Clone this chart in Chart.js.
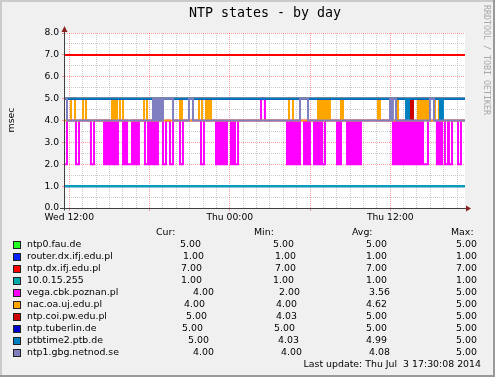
<!DOCTYPE html>
<html>
<head>
<meta charset="utf-8">
<script src="https://cdn.jsdelivr.net/npm/chart.js@4.4.1/dist/chart.umd.min.js"></script>
<style>
  html, body { margin: 0; padding: 0; background: #f0f0f0; }
  #ntp { display: block; }
</style>
</head>
<body>
<canvas id="ntp" width="495" height="377"></canvas>
<script>
// hours counted from Wed 00:00, values in msec
var seriesNames = ['ntp0.fau.de', 'router.dx.ifj.edu.pl', 'ntp.dx.ifj.edu.pl', '10.0.15.255',
  'vega.cbk.poznan.pl', 'nac.oa.uj.edu.pl', 'ntp.coi.pw.edu.pl', 'ntp.tuberlin.de',
  'ptbtime2.ptb.de', 'ntp1.gbg.netnod.se'];
var seriesColors = ['#22ff22', '#0022ff', '#ff0000', '#00aaaa', '#ff00ff',
  '#ffa500', '#cc0000', '#0000cc', '#0080c0', '#8080c0'];

var ntp0Fau = [[11.68, 5], [41.59, 5]];
var routerDx = [[11.68, 1], [41.59, 1]];
var ntpDx = [[11.68, 7], [41.59, 7]];
var local255 = [[11.68, 1], [41.59, 1]];
var vegaCbk = [
  [11.68, 2], [11.83, 4],
  [12.50, 2], [12.73, 4],
  [13.62, 2], [13.85, 4],
  [14.60, 2], [14.75, 4], [14.89, 2], [15.04, 4],
  [15.19, 2], [15.34, 4], [15.49, 2], [15.64, 4],
  [16.02, 2], [16.17, 4], [16.32, 2], [16.69, 4], [16.84, 2], [16.99, 4], [17.06, 2], [17.21, 4],
  [17.66, 2], [17.89, 4],
  [17.96, 2], [18.11, 4], [18.26, 2], [18.41, 4], [18.56, 2], [18.63, 4],
  [19.01, 2], [19.23, 4],
  [19.53, 2], [19.76, 4],
  [20.28, 2], [20.50, 4],
  [21.85, 2], [22.07, 4],
  [22.97, 2], [23.12, 4], [23.19, 2], [23.27, 4],
  [23.34, 2], [23.49, 4], [23.64, 2], [23.79, 4],
  [24.09, 2], [24.24, 4], [24.39, 2], [24.62, 4],
  [26.34, 5], [26.63, 4],
  [28.28, 2], [28.43, 4], [28.58, 2], [28.73, 4], [28.88, 2], [29.03, 4],
  [29.18, 2], [29.25, 4],
  [29.55, 2], [29.70, 4], [29.85, 2], [30.00, 4],
  [30.30, 2], [30.45, 4], [30.60, 2], [30.75, 4], [30.90, 2], [31.12, 4],
  [32.02, 2], [32.17, 4], [32.24, 2], [32.32, 4],
  [32.77, 2], [32.92, 4], [33.06, 2], [33.21, 4], [33.36, 2], [33.51, 4], [33.66, 2], [33.81, 4],
  [36.20, 2], [36.35, 4], [36.43, 2], [36.50, 4],
  [36.65, 2], [36.73, 4],
  [36.88, 2], [37.03, 4], [37.10, 2], [37.25, 4], [37.40, 2], [37.55, 4], [37.70, 2], [37.85, 4], [38.00, 2], [38.15, 4],
  [38.29, 2], [38.37, 4], [38.45, 2], [38.82, 4],
  [39.49, 2], [39.64, 4], [39.72, 2], [39.87, 4],
  [40.09, 2], [40.32, 4], [40.39, 2], [40.62, 4],
  [41.07, 2], [41.29, 4],
  [41.59, 4]
];
var nacOa = [
  [11.68, 4],
  [12.13, 5], [12.43, 4],
  [13.03, 5], [13.25, 4],
  [15.19, 5], [15.34, 4], [15.42, 5], [15.57, 4],
  [15.79, 5], [16.02, 4],
  [17.59, 5], [17.81, 4],
  [20.28, 5], [20.43, 4],
  [21.70, 5], [21.92, 4],
  [22.22, 5], [22.37, 4],
  [22.45, 5], [22.60, 4],
  [28.43, 5], [28.73, 4],
  [30.60, 5], [30.75, 4], [30.90, 5], [31.05, 4],
  [31.12, 5], [31.27, 4], [31.34, 5], [31.49, 4],
  [32.32, 5], [32.47, 4],
  [35.08, 5], [35.23, 4],
  [36.43, 5], [36.58, 4],
  [38.07, 5], [38.22, 4], [38.37, 5], [38.52, 4], [38.67, 5], [38.75, 4], [38.82, 5], [38.90, 4],
  [39.35, 5], [39.64, 4],
  [41.59, 4]
];
var ntpCoi = [[11.68, 5], [37.48, 4.03], [37.55, 5], [37.63, 4.03], [37.70, 5], [41.59, 5]];
var ntpTuberlin = [[11.68, 5], [41.59, 5]];
var ptbtime2 = [[11.68, 5], [37.18, 4.03], [37.25, 5], [37.33, 4.03], [37.40, 5],
  [39.72, 4.03], [39.79, 5], [39.87, 4.03], [39.94, 5], [41.59, 5]];
var ntp1Gbg = [
  [11.68, 5], [11.83, 4],
  [18.26, 5], [18.33, 4], [18.41, 5], [18.48, 4], [18.56, 5], [18.63, 4], [18.71, 5], [18.78, 4],
  [18.86, 5], [18.93, 4], [19.01, 5], [19.76, 4],
  [20.95, 5], [21.25, 4],
  [29.25, 5], [29.85, 4],
  [35.98, 5], [36.13, 4], [36.20, 5], [36.43, 4],
  [38.97, 5], [39.27, 4],
  [41.59, 4]
];
var seriesPoints = [ntp0Fau, routerDx, ntpDx, local255, vegaCbk, nacOa, ntpCoi, ntpTuberlin, ptbtime2, ntp1Gbg];

// legend statistics as printed
var curValues = ['5.00', '1.00', '7.00', '1.00', '4.00', '4.00', '5.00', '5.00', '5.00', '4.00'];
var minValues = ['5.00', '1.00', '7.00', '1.00', '2.00', '4.00', '4.03', '5.00', '4.03', '4.00'];
var avgValues = ['5.00', '1.00', '7.00', '1.00', '3.56', '4.62', '5.00', '5.00', '4.99', '4.08'];
var maxValues = ['5.00', '1.00', '7.00', '1.00', '5.00', '5.00', '5.00', '5.00', '5.00', '5.00'];
var statHeaders = ['Cur:', 'Min:', 'Avg:', 'Max:'];
var lastUpdate = 'Last update: Thu Jul  3 17:30:08 2014';

// axes
var xGridHours = [12, 13, 14, 15, 16, 17, 18, 19, 20, 21, 22, 23, 24, 25, 26, 27, 28, 29, 30,
  31, 32, 33, 34, 35, 36, 37, 38, 39, 40, 41];
var xMajorHours = [12, 18, 24, 30, 36];
var xLabelHours = [12, 24, 36];
var xLabelText = ['Wed 12:00', 'Thu 00:00', 'Thu 12:00'];
var yGridValues = [0, 0.5, 1, 1.5, 2, 2.5, 3, 3.5, 4, 4.5, 5, 5.5, 6, 6.5, 7, 7.5, 8];

// layout of the text columns (rrdtool pads these unevenly)
var curX = [180, 183, 181, 181, 193, 184, 186, 182, 188, 193];
var minX = [273, 275, 275, 273, 279, 276, 276, 274, 278, 281];
var avgX = [366, 366, 366, 366, 369, 366, 366, 366, 366, 369];
var headerX = [156, 254, 352, 451];

var GRID = 'rgba(140,140,140,0.45)';
var MGRID = 'rgba(255,0,0,0.38)';
var FONT = 'DejaVu Sans';

var rrdFrame = {
  id: 'rrdFrame',
  beforeDraw: function(chart) {
    var ctx = chart.ctx, a = chart.chartArea, w = chart.width, h = chart.height;
    ctx.save();
    ctx.fillStyle = '#f0f0f0';
    ctx.fillRect(0, 0, w, h);
    ctx.fillStyle = '#cbcbcb';
    ctx.fillRect(0, 0, w, 2);
    ctx.fillRect(0, 0, 2, h);
    ctx.fillStyle = '#999999';
    ctx.fillRect(w - 2, 0, 2, h);
    ctx.fillRect(0, h - 2, w, 2);
    ctx.fillStyle = '#ffffff';
    ctx.fillRect(a.left, a.top, a.right - a.left, a.bottom - a.top);
    ctx.restore();
  },
  afterDraw: function(chart) {
    var ctx = chart.ctx, a = chart.chartArea;
    var ax = Math.round(a.left) - 0.5, ay = Math.round(a.bottom) + 0.5;
    ctx.save();
    // axes with arrows
    ctx.strokeStyle = '#404040';
    ctx.lineWidth = 1;
    ctx.beginPath();
    ctx.moveTo(60, ay); ctx.lineTo(a.right + 3, ay);
    ctx.moveTo(ax, ay + 2); ctx.lineTo(ax, a.top - 3);
    ctx.stroke();
    ctx.fillStyle = '#8b2020';
    ctx.beginPath();
    ctx.moveTo(ax, a.top - 7); ctx.lineTo(ax - 3, a.top - 1); ctx.lineTo(ax + 3, a.top - 1);
    ctx.closePath(); ctx.fill();
    ctx.beginPath();
    ctx.moveTo(a.right + 6, ay); ctx.lineTo(a.right + 1, ay - 3); ctx.lineTo(a.right + 1, ay + 3);
    ctx.closePath(); ctx.fill();

    // title
    ctx.fillStyle = '#000';
    ctx.textBaseline = 'middle';
    ctx.textAlign = 'center';
    ctx.font = '13.3px "DejaVu Sans Mono"';
    ctx.fillText('NTP states - by day', 265, 13.5);

    // vertical label
    ctx.save();
    ctx.translate(12, 120);
    ctx.rotate(-Math.PI / 2);
    ctx.font = '9.4px "' + FONT + '"';
    ctx.fillText('msec', 0, 0);
    ctx.restore();

    // watermark
    ctx.save();
    ctx.translate(486, 5);
    ctx.rotate(Math.PI / 2);
    ctx.textAlign = 'left';
    ctx.fillStyle = '#a8a8a8';
    ctx.font = '8.3px "DejaVu Sans Mono"';
    ctx.fillText('RRDTOOL / TOBI OETIKER', 0, 0);
    ctx.restore();

    // legend table
    ctx.textAlign = 'left';
    ctx.font = '9.4px "' + FONT + '"';
    ctx.fillStyle = '#000';
    statHeaders.forEach(function(t, k) { ctx.fillText(t, headerX[k], 232.5); });
    seriesNames.forEach(function(name, i) {
      var y = 245 + i * 11.95;
      ctx.fillStyle = seriesColors[i];
      ctx.fillRect(13, Math.round(y) - 4, 8, 8);
      ctx.strokeStyle = '#202020';
      ctx.strokeRect(13.5, Math.round(y) - 3.5, 7, 7);
      ctx.fillStyle = '#000';
      ctx.fillText(name, 27, y);
      ctx.fillText(curValues[i], curX[i], y);
      ctx.fillText(minValues[i], minX[i], y);
      ctx.fillText(avgValues[i], avgX[i], y);
      ctx.fillText(maxValues[i], 456, y);
    });
    ctx.textAlign = 'right';
    ctx.fillText(lastUpdate, 481, 364.5);
    ctx.restore();
  }
};

var datasets = seriesNames.map(function(name, i) {
  return {
    label: name,
    data: seriesPoints[i].map(function(p) { return {x: p[0], y: p[1]}; }),
    borderColor: seriesColors[i],
    backgroundColor: seriesColors[i],
    borderWidth: 2,
    pointRadius: 0,
    stepped: 'before',   // value holds until the next change point
    fill: false,
    tension: 0,
    order: seriesNames.length - i   // later entries drawn on top, like rrdtool
  };
});

new Chart(document.getElementById('ntp'), {
  type: 'line',
  data: {datasets: datasets},
  options: {
    responsive: false,
    animation: false,
    devicePixelRatio: 1,
    layout: {padding: {top: 33, left: 0, right: 30, bottom: 149}},
    plugins: {legend: {display: false}, tooltip: {enabled: false}, title: {display: false}},
    scales: {
      x: {
        type: 'linear',
        min: 11.68,
        max: 41.59,
        afterBuildTicks: function(s) { s.ticks = xGridHours.map(function(v) { return {value: v}; }); },
        afterFit: function(s) { s.height = 20; },
        ticks: {
          autoSkip: false, maxRotation: 0, minRotation: 0, padding: 1, color: '#000',
          font: {family: FONT, size: 9.2},
          callback: function(v) {
            var k = xLabelHours.indexOf(v);
            return k < 0 ? '' : xLabelText[k];
          }
        },
        grid: {
          lineWidth: 1, tickLength: 3,
          color: function(c) { return xMajorHours.indexOf(c.tick.value) >= 0 ? MGRID : GRID; },
          tickColor: function(c) { return xMajorHours.indexOf(c.tick.value) >= 0 ? MGRID : 'rgba(0,0,0,0)'; }
        },
        border: {display: false, dash: [1, 1]}
      },
      y: {
        min: 0,
        max: 8,
        afterBuildTicks: function(s) { s.ticks = yGridValues.map(function(v) { return {value: v}; }); },
        afterFit: function(s) { s.width = 65; },
        ticks: {
          autoSkip: false, padding: 3, color: '#000',
          font: {family: FONT, size: 9.2},
          callback: function(v) { return Number.isInteger(v) ? v.toFixed(1) : ''; }
        },
        grid: {
          lineWidth: 1, tickLength: 3,
          color: function(c) { return Number.isInteger(c.tick.value) ? MGRID : GRID; },
          tickColor: function(c) { return Number.isInteger(c.tick.value) ? MGRID : 'rgba(0,0,0,0)'; }
        },
        border: {display: false, dash: [1, 1]}
      }
    }
  },
  plugins: [rrdFrame]
});
</script>
</body>
</html>
